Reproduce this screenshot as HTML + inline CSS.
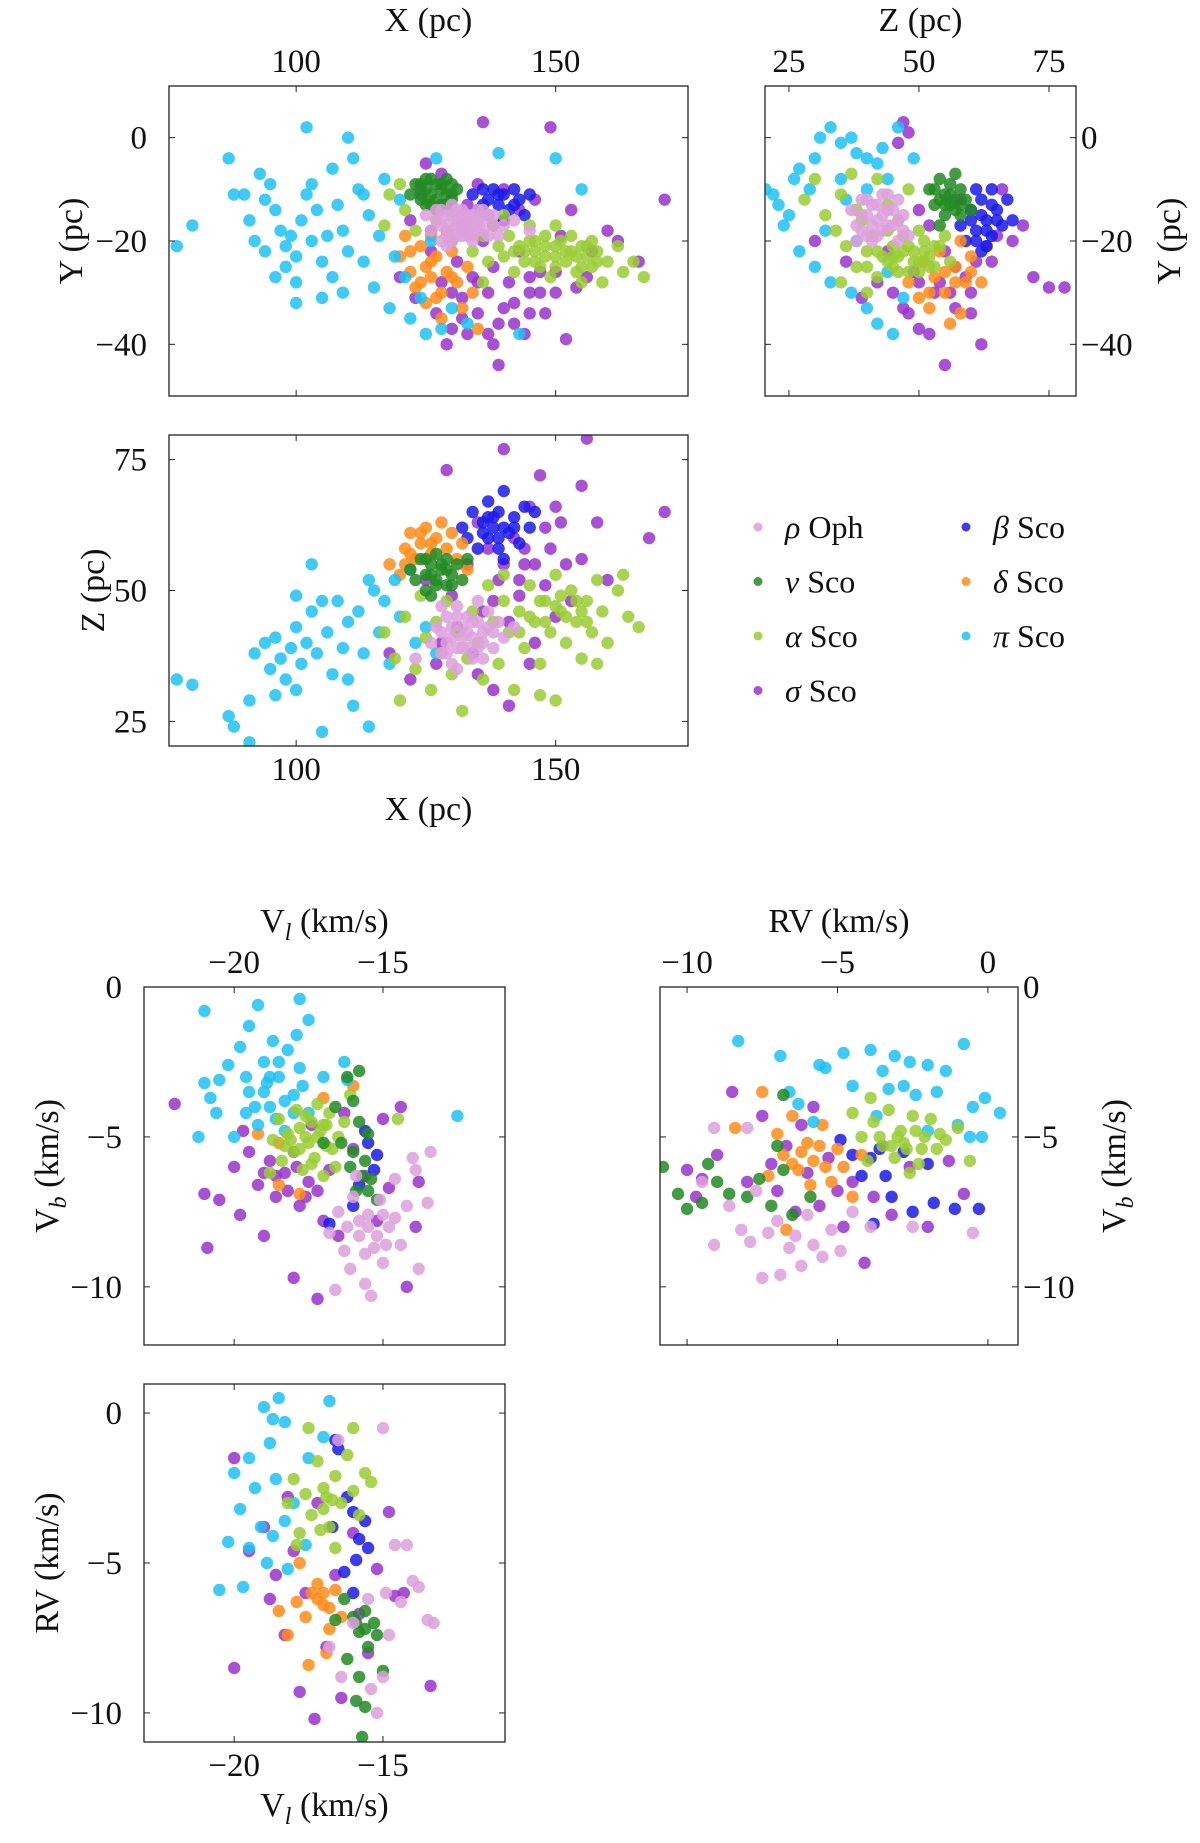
<!DOCTYPE html>
<html><head><meta charset="utf-8"><style>
html,body{margin:0;padding:0;background:#fff}
svg{display:block}
text{font-family:"Liberation Serif",serif;fill:#111}
</style></head><body>
<svg id="fig" width="1200" height="1843" viewBox="0 0 1200 1843">
<g id="layer"></g>
</svg>
<script>
// ---------- data ----------
const groupNames = ["sigma","beta","delta","pi","alpha","nu","rho"];
const groupColors = {rho:"#dda0dd",nu:"#228b22",alpha:"#9acd32",sigma:"#9932cc",beta:"#1a1ae6",delta:"#ff8c1a",pi:"#1ec1f5"};

const xyPi=[[77,-21],[80,-17],[87,-4],[88,-11],[90,-11],[91,-16],[93,-7],[94,-12],[95,-9],[96,-14],[97,-18],[98,-21],[98,-25],[99,-19],[100,-23],[101,-16],[100,-28],[102,-11],[103,-20],[103,-9],[104,-14],[105,-24],[106,-19],[107,-6],[107,-27],[108,-13],[109,-18],[110,-22],[111,-4],[112,-10],[113,-24],[114,-15],[115,-29],[116,-19],[117,-8],[118,-33],[119,-23],[120,-12],[121,-27],[122,-35],[124,-31],[125,-38],[126,-20],[127,-4],[128,-37],[130,-33],[133,-36],[139,-3],[143,-38],[150,-4],[155,-10],[102,2],[110,0],[105,-31],[100,-32],[94,-22],[96,-27],[92,-20],[109,-30],[113,-11]];
const xySigma=[[120,-27],[122,-16],[123,-31],[124,-10],[125,-5],[126,-22],[127,-34],[128,-28],[129,-40],[130,-37],[131,-24],[132,-31],[133,-13],[134,-27],[135,-34],[136,-20],[136,3],[137,-30],[138,-25],[139,-36],[139,-44],[140,-16],[141,-28],[142,-32],[143,-22],[144,-38],[145,-27],[146,-12],[147,-30],[148,-34],[149,2],[150,-26],[151,-19],[152,-39],[153,-14],[154,-29],[156,-27],[157,-22],[160,-18],[162,-20],[171,-12],[166,-24],[133,-38],[130,-20],[126,-18],[140,-10],[143,-14],[128,-7],[135,-9],[145,-34],[130,-30],[135,-28],[140,-33],[145,-30],[138,-40],[142,-36],[150,-30],[132,-35],[147,-26],[137,-38]];
const xyAlpha=[[117,-17],[118,-11],[120,-9],[121,-14],[123,-18],[125,-12],[127,-16],[130,-20],[132,-18],[134,-22],[136,-19],[137,-24],[138,-17],[139,-21],[140,-23],[141,-19],[142,-26],[143,-21],[144,-24],[145,-20],[146,-22],[147,-25],[148,-21],[149,-27],[150,-23],[151,-20],[152,-24],[153,-22],[154,-26],[155,-21],[156,-23],[157,-25],[158,-22],[159,-28],[160,-24],[162,-21],[163,-26],[165,-24],[167,-27],[145,-17],[150,-17],[136,-28],[140,-15],[155,-28],[144,-22],[146,-20],[148,-23],[150,-21],[152,-22],[154,-23],[156,-21],[158,-24],[146,-24],[150,-25],[153,-19],[148,-19],[142,-22],[155,-25],[157,-20]];
const xyNu=[[122,-11],[123,-9],[124,-12],[125,-10],[125,-13],[126,-8],[126,-11],[127,-12],[127,-9],[128,-10],[128,-13],[129,-11],[130,-9],[130,-12],[131,-10],[124,-9],[127,-14],[129,-8],[124,-11],[126,-13],[128,-9],[129,-13],[125,-8],[130,-11]];
const xyRho=[[125,-15],[126,-18],[127,-14],[128,-17],[128,-20],[129,-15],[130,-18],[130,-13],[131,-16],[131,-19],[132,-14],[132,-17],[133,-19],[133,-15],[134,-17],[135,-14],[135,-18],[136,-16],[137,-19],[138,-15],[140,-17],[142,-16],[145,-18],[129,-21],[134,-20],[127,-16],[129,-17],[130,-15],[131,-14],[132,-19],[133,-16],[134,-15],[135,-16],[136,-18],[137,-15],[128,-14],[130,-20],[132,-15],[134,-19],[136,-14],[129,-19],[131,-17],[133,-17],[138,-17],[139,-19]];
const xyBeta=[[134,-11],[135,-14],[136,-10],[137,-12],[138,-10],[139,-13],[140,-11],[141,-14],[142,-10],[143,-12],[144,-15],[140,-16],[138,-17],[145,-11],[136,-13],[139,-11],[142,-13],[137,-15]];
const xyDelta=[[120,-23],[121,-19],[122,-26],[123,-29],[124,-21],[125,-25],[125,-32],[126,-27],[127,-23],[128,-30],[128,-35],[129,-26],[130,-22],[131,-28],[132,-33],[133,-25],[134,-30],[135,-37],[126,-19],[129,-18],[124,-28],[127,-31],[130,-27],[126,-24],[122,-22]];

const zyPi=[[20.5,-10],[22,-11],[23,-13],[24,-17],[26,-8],[27,-6],[29,-10],[30,-4],[31,0],[33,2],[35,-1],[37,0],[38,-3],[40,-4],[42,-5],[44,-8],[40,-10],[36,-12],[27,-22],[30,-25],[33,-28],[37,-30],[40,-33],[42,-36],[45,-38],[47,-31],[44,-26],[38,-20],[35,-8],[43,-2],[46,2],[49,-4],[32,-18],[25,-15]];
const zySigma=[[47,3],[48,1],[46,-1],[50,-14],[52,-17],[55,-22],[57,-25],[59,-27],[61,-24],[63,-21],[65,-19],[68,-20],[72,-27],[75,-29],[78,-29],[70,-17],[66,-10],[45,-30],[48,-34],[50,-37],[52,-38],[55,-44],[53,-30],[57,-33],[60,-34],[62,-40],[42,-28],[39,-31],[36,-24],[30,-20],[44,-22],[58,-12],[54,-28],[49,-26],[56,-30],[50,-28],[47,-33],[60,-30],[64,-24]];
const zyAlpha=[[28,-12],[30,-8],[32,-15],[34,-18],[35,-11],[36,-21],[37,-7],[38,-25],[39,-16],[40,-22],[41,-19],[42,-27],[43,-23],[44,-18],[45,-21],[45,-25],[46,-23],[47,-19],[48,-26],[49,-22],[50,-24],[51,-20],[52,-23],[53,-25],[54,-21],[55,-19],[56,-24],[44,-13],[48,-10],[42,-8],[40,-30],[35,-28],[38,-14],[46,-16],[50,-18],[45,-23],[47,-22],[49,-24],[51,-22],[53,-21],[48,-21],[50,-26],[46,-26],[44,-24],[52,-25],[42,-22],[40,-25]];
const zyRho=[[37,-14],[38,-17],[39,-12],[40,-15],[40,-19],[41,-13],[42,-16],[43,-18],[43,-11],[44,-14],[45,-17],[46,-12],[47,-15],[48,-19],[41,-20],[46,-20],[38,-20],[39,-15],[41,-17],[42,-13],[43,-15],[44,-17],[45,-14],[46,-16],[40,-12],[42,-19],[44,-11],[47,-18],[39,-18]];
const zyNu=[[52,-10],[53,-13],[54,-8],[55,-11],[55,-15],[56,-9],[56,-13],[57,-12],[58,-10],[58,-15],[59,-12],[54,-17],[57,-7],[60,-14],[53,-10],[55,-13],[56,-11],[57,-14],[54,-12],[58,-13]];
const zyBeta=[[58,-17],[59,-20],[60,-14],[61,-18],[62,-12],[62,-22],[63,-16],[64,-10],[64,-19],[65,-14],[66,-17],[67,-12],[68,-16],[61,-10],[63,-21],[60,-16],[62,-15],[63,-18],[65,-16],[61,-20],[64,-13]];
const zyDelta=[[48,-28],[50,-31],[51,-24],[52,-33],[53,-27],[54,-22],[55,-30],[56,-36],[57,-25],[58,-20],[59,-28],[60,-23],[62,-28],[58,-34],[55,-26],[57,-28],[60,-26],[52,-30]];

const xzPi=[[77,33],[80,32],[87,26],[88,24],[91,21],[91,29],[92,38],[94,40],[95,35],[96,41],[97,37],[98,33],[99,39],[100,43],[100,31],[101,36],[102,40],[103,46],[104,38],[105,23],[106,42],[107,34],[108,48],[109,39],[110,44],[111,28],[112,46],[113,38],[114,24],[115,50],[116,42],[117,48],[118,36],[119,52],[120,45],[122,54],[123,40],[125,43],[127,38],[103,55],[100,49],[110,33],[96,30],[105,48],[114,52]];
const xzSigma=[[118,38],[122,33],[125,52],[127,36],[129,73],[130,49],[131,43],[133,55],[134,38],[135,63],[136,46],[137,58],[138,31],[139,52],[140,77],[141,28],[141,44],[142,60],[143,49],[144,55],[145,66],[146,40],[147,72],[148,51],[149,58],[150,45],[151,63],[152,55],[153,48],[155,70],[155,56],[156,79],[158,63],[160,52],[168,60],[171,65],[135,34],[145,36],[128,40],[150,66],[140,55],[143,52],[146,55],[138,48],[144,58],[148,62]];
const xzAlpha=[[117,42],[119,37],[120,29],[121,45],[123,35],[124,49],[125,41],[126,31],[127,44],[128,38],[129,48],[130,34],[131,42],[132,27],[133,37],[134,46],[135,40],[136,33],[137,51],[138,44],[139,36],[140,48],[141,42],[142,31],[143,46],[144,39],[145,51],[146,44],[147,36],[148,48],[149,42],[150,29],[150,53],[151,46],[152,40],[153,50],[154,44],[155,37],[156,48],[157,42],[158,52],[159,46],[160,40],[162,50],[164,45],[166,43],[163,53],[158,36],[147,30],[140,53],[145,45],[148,44],[150,47],[152,45],[154,48],[156,44],[143,42],[147,48],[151,49],[155,46]];
const xzRho=[[126,40],[127,43],[128,38],[129,45],[130,41],[130,36],[131,47],[132,43],[132,39],[133,45],[134,41],[134,37],[135,44],[136,40],[137,46],[138,42],[139,44],[140,41],[142,43],[128,47],[135,48],[131,35],[123,37],[129,40],[130,43],[131,39],[132,41],[133,42],[134,44],[135,39],[136,42],[137,43],[128,42],[131,45],[133,39],[129,38],[136,37],[138,39]];
const xzNu=[[122,54],[123,52],[124,56],[125,53],[125,50],[126,55],[127,52],[127,57],[128,54],[129,51],[129,56],[130,53],[131,55],[132,52],[126,49],[133,56],[126,53],[128,55],[127,51],[129,54],[125,56],[130,51]];
const xzBeta=[[132,62],[133,60],[134,65],[135,58],[136,63],[137,67],[137,60],[138,62],[139,65],[139,58],[140,69],[141,61],[142,64],[143,59],[144,66],[145,62],[146,65],[140,56],[136,61],[138,64],[140,62],[142,62],[139,60],[137,64]];
const xzDelta=[[118,55],[120,53],[121,58],[122,61],[123,56],[124,59],[125,62],[126,57],[127,60],[128,63],[129,58],[130,61],[131,56],[132,59],[133,54],[122,57],[124,61],[126,59],[121,55]];

const vlbPi=[[-21,-0.8],[-19.2,-0.6],[-17.8,-0.4],[-17.5,-1.1],[-19.5,-1.3],[-20.5,-3.1],[-21,-3.2],[-20.2,-2.6],[-19.8,-2],[-19.5,-3.5],[-19,-2.5],[-18.8,-4],[-18.5,-3],[-18.2,-2.1],[-18,-3.6],[-17.8,-2.7],[-17.5,-4.2],[-19.2,-4.6],[-20.6,-4.2],[-21.2,-5],[-20,-5],[-18.7,-1.8],[-19.6,-4.2],[-18.3,-4.8],[-17,-3],[-16.3,-2.5],[-16.2,-3.1],[-12.5,-4.3],[-20.8,-3.7],[-18.9,-3.2],[-17.9,-1.6],[-19,-3.5],[-18.5,-2.5],[-18.3,-3.8],[-18.8,-3],[-19.3,-4],[-18,-4.2],[-19.6,-3],[-18.6,-4.4],[-17.7,-3.3]];
const vlbSigma=[[-22,-3.9],[-21,-6.9],[-20.5,-7.1],[-20,-6],[-19.8,-7.6],[-19.5,-5.5],[-19.2,-6.6],[-19,-8.3],[-18.8,-5.8],[-18.6,-7],[-18.3,-6.2],[-18,-9.7],[-18,-5.5],[-17.8,-7.3],[-17.5,-6.5],[-17.2,-10.4],[-17,-7.8],[-16.8,-6.1],[-16.5,-8.3],[-16.3,-4.2],[-16,-5.4],[-15.6,-6.3],[-15.2,-7.8],[-15,-4.4],[-14.8,-6.7],[-14.4,-4],[-14.2,-10],[-13.9,-8],[-20.9,-8.7],[-19.7,-4.8],[-17.4,-4.6],[-13.8,-6.5],[-18.6,-6.3],[-18.2,-6.8],[-17.9,-6],[-19,-6.2],[-17.6,-7],[-17.2,-6.8]];
const vlbAlpha=[[-18.7,-5.1],[-18.5,-4.4],[-18.4,-5.8],[-18.2,-4.9],[-18,-5.5],[-17.9,-4.1],[-17.7,-6.1],[-17.6,-5],[-17.4,-4.5],[-17.3,-5.7],[-17.1,-4.8],[-16.9,-5.3],[-16.8,-4.2],[-16.6,-6],[-16.5,-5],[-16.3,-4.5],[-17.8,-4.7],[-17.2,-3.9],[-16.1,-3.6],[-14.5,-4.4],[-18.8,-6.2],[-17,-6.3],[-17.5,-5.2],[-17.8,-5.4],[-17.2,-5],[-17,-4.6],[-17.6,-4.3],[-18.1,-5.1],[-16.7,-5.4],[-17.4,-5.9],[-16.9,-4.6],[-18.3,-5.3]];
const vlbNu=[[-16.2,-3],[-16,-3.8],[-15.8,-4.5],[-16.4,-5.2],[-15.6,-5.8],[-15.4,-6.4],[-15.9,-6.8],[-15.2,-7.1],[-16.6,-4],[-15.5,-4.9],[-15.8,-2.8],[-16.1,-6],[-17,-5.2],[-15.7,-6.3],[-15.5,-6.8],[-16,-5.5]];
const vlbRho=[[-16.5,-7.5],[-16.3,-8.8],[-16.1,-9.4],[-16,-7],[-15.8,-8.3],[-15.6,-9.9],[-15.5,-7.6],[-15.3,-8.7],[-15.1,-7.1],[-15,-9.2],[-14.8,-8],[-14.6,-6.4],[-14.4,-8.6],[-14.2,-7.3],[-14,-5.7],[-13.8,-9.4],[-13.5,-7.2],[-13.4,-5.5],[-16.6,-10.1],[-16.8,-8.2],[-15.9,-6.3],[-13.9,-6.1],[-15.4,-10.3],[-15.5,-8],[-15.2,-8.3],[-15.8,-7.8],[-14.9,-8.6],[-15.6,-8.9],[-15,-7.6],[-16.2,-8],[-14.6,-7.7]];
const vlbBeta=[[-15.5,-5.2],[-15.3,-6.1],[-15.8,-6.6],[-15.6,-4.8],[-15.2,-5.6],[-16,-7.3],[-16.8,-7.9]];
const vlbDelta=[[-18.5,-6.6],[-19.2,-4.9],[-18.5,-5.2],[-17.8,-6.9],[-16,-3.3],[-17,-3.7]];

const rvbPi=[[-8.3,-1.8],[-6.9,-2.3],[-6.6,-3.5],[-6.3,-3.9],[-5.6,-2.6],[-5.4,-2.7],[-4.8,-2.2],[-4.5,-3.3],[-3.9,-2.1],[-3.5,-2.8],[-3.3,-3.4],[-3.1,-2.3],[-2.8,-3.3],[-2.6,-2.5],[-2.4,-3.6],[-2,-2.6],[-1.7,-3.5],[-1.4,-2.8],[-1,-4.6],[-0.8,-1.9],[-0.5,-4],[-0.2,-5],[0.4,-4.2],[-3.7,-4.3],[-2,-4.8],[-0.6,-5],[-5.8,-4.5],[-0.1,-3.7]];
const rvbSigma=[[-10,-6.1],[-9.5,-6.4],[-9,-5.6],[-8.5,-3.5],[-8,-6.5],[-7.5,-4.3],[-7.2,-5.9],[-7,-6.8],[-6.7,-5.3],[-6.4,-7.5],[-6.2,-4.6],[-6,-6.2],[-5.6,-7.3],[-5.3,-5.7],[-5,-6.8],[-4.8,-8],[-4.5,-6.5],[-4.1,-9.2],[-3.8,-7],[-3.5,-5.3],[-3.2,-7.6],[-2.6,-6],[-2,-8],[-0.8,-6.9],[-1.3,-5.8],[-9.7,-7],[-5.8,-4]];
const rvbDelta=[[-8.4,-4.7],[-7.5,-3.5],[-7,-4.9],[-6.8,-5.6],[-6.5,-4.3],[-6.3,-6.1],[-6,-5.2],[-5.8,-5.8],[-5.5,-4.6],[-5.2,-6.5],[-5,-5.4],[-4.8,-6],[-4.5,-7],[-6.7,-8.1],[-7.3,-6.3],[-5.9,-6.6],[-4.2,-5.6],[-6.2,-5.5],[-5.6,-5.3],[-6.5,-5.9],[-5.4,-6]];
const rvbNu=[[-10.8,-6],[-10.3,-6.9],[-10,-7.4],[-9.5,-7.2],[-9,-6.5],[-8.6,-6.9],[-8,-7],[-7.6,-6.4],[-7.2,-7.3],[-6.8,-6.1],[-6.5,-7.6],[-7,-5.3],[-6.8,-3.6],[-5.9,-7],[-9.3,-5.9]];
const rvbAlpha=[[-4.5,-4.2],[-4.2,-5],[-4,-5.8],[-3.8,-4.5],[-3.5,-5.3],[-3.3,-4.1],[-3.1,-5.7],[-2.9,-4.8],[-2.7,-5.4],[-2.5,-4.3],[-2.3,-5.9],[-2.1,-5],[-1.9,-4.4],[-1.7,-5.4],[-1.4,-5.1],[-1,-4.7],[-0.6,-5.8],[-3.9,-3.7],[-2.6,-6.2],[-3.6,-5],[-3,-5],[-2.8,-5.2],[-2.4,-4.8],[-3.2,-5.3],[-2.2,-5.4],[-1.6,-4.9]];
const rvbRho=[[-9.5,-6.5],[-9.1,-4.7],[-8.6,-7.3],[-8.2,-8.1],[-7.9,-8.5],[-7.7,-6.8],[-7.5,-9.7],[-7.3,-8.2],[-7,-7.8],[-6.9,-9.6],[-6.6,-8.7],[-6.4,-8.3],[-6.2,-9.3],[-6,-7.6],[-5.8,-8.6],[-5.5,-9],[-5.2,-8.1],[-4.9,-8.8],[-4.5,-7.5],[-3.9,-8],[-2.5,-8],[-0.5,-8.2],[-9.1,-8.6],[-8,-4.7]];
const rvbBeta=[[-4.9,-5.1],[-4.5,-5.6],[-4.2,-6.3],[-3.9,-5.7],[-3.6,-5.4],[-3.4,-6.3],[-3.2,-7],[-2.8,-5.5],[-2.5,-7.5],[-1.8,-7.2],[-1.1,-7.4],[-0.3,-7.4],[-3.8,-7.9],[-2,-5.9]];

const vlrPi=[[-19,0.2],[-18.5,0.5],[-18.7,-0.2],[-18.3,-0.3],[-18.8,-1],[-19.5,-1.5],[-20,-2],[-19.3,-2.5],[-18.6,-2.2],[-18,-3],[-18.3,-3.6],[-19.8,-3.2],[-20.2,-4.3],[-19.5,-4.5],[-18.9,-5],[-20.5,-5.9],[-19.7,-5.8],[-18.2,-5.2],[-17.6,-4.4],[-17,-0.8],[-16.8,0.4],[-17.5,-1.5],[-19.1,-3.8],[-18.7,-4.1]];
const vlrSigma=[[-20,-1.5],[-20,-8.5],[-19.5,-4.6],[-19,-3.8],[-18.8,-6.2],[-18.6,-5.4],[-18.3,-7.4],[-18,-4.6],[-17.8,-9.3],[-17.6,-6],[-17.3,-10.2],[-17.2,-3],[-16.9,-7.8],[-16.6,-5.4],[-16.4,-9.5],[-16,-4],[-15.8,-6.7],[-15.5,-8],[-14.8,-3.3],[-14.6,-6.1],[-14.3,-6],[-13.4,-9.1],[-18.2,-2.8],[-15.2,-5.2]];
const vlrAlpha=[[-18.2,-3],[-18,-2.2],[-17.8,-4],[-17.6,-2.7],[-17.4,-3.4],[-17.2,-1.6],[-17,-2.5],[-16.8,-3.8],[-16.6,-2.1],[-16.4,-3],[-16.2,-1.4],[-16,-2.6],[-15.8,-3.4],[-15.6,-2],[-17.5,-0.5],[-16.6,-4.5],[-17.9,-4.4],[-15.4,-2.3],[-16,-0.5],[-17.1,-3.9],[-17,-3.2],[-16.7,-2.9],[-16.9,-2.8]];
const vlrBeta=[[-16.5,-1.2],[-16.2,-2.8],[-16,-3.3],[-15.8,-4.2],[-15.6,-3.6],[-15.9,-4.9],[-16.3,-5.3],[-15.5,-4.5],[-16.7,-3.8],[-16,-6],[-16.6,-0.9]];
const vlrDelta=[[-18.5,-6.6],[-18.2,-7.4],[-17.8,-5],[-17.6,-6.8],[-17.4,-6],[-17.2,-5.7],[-17,-6.4],[-16.8,-7.2],[-16.6,-5.9],[-16.9,-8],[-17.5,-8.4],[-16.4,-6.8],[-17.9,-6.3],[-17.2,-6.2],[-17,-6],[-16.8,-6.5]];
const vlrNu=[[-16.3,-6.2],[-16,-6.8],[-15.8,-7.3],[-15.6,-6.6],[-15.5,-7.8],[-15.3,-7],[-16.2,-8.2],[-15.8,-8.8],[-15.9,-9.6],[-15.6,-9.8],[-15.7,-10.8],[-15,-8.6],[-16.6,-6.9],[-15.2,-7.4],[-15.9,-7],[-15.6,-7.2]];
const vlrRho=[[-15,-0.5],[-16.5,-0.9],[-14.6,-4.4],[-14.2,-4.4],[-14,-5.6],[-13.8,-5.8],[-13.5,-6.9],[-13.3,-7],[-14.4,-6.3],[-14.8,-7.4],[-15,-8.8],[-15.4,-9.2],[-15.2,-10],[-16.4,-8.8],[-16,-7],[-15.5,-6.2],[-14.9,-6],[-16.8,-7.8]];

const ticksX=[100,150], ticksY=[0,-20,-40], ticksZ=[25,50,75];
const ticksVl=[-20,-15], ticksVb=[0,-5,-10], ticksRV=[-10,-5,0], ticksRVy=[0,-5,-10];

const legendLabels=[["rho","\u03C1"," Oph"],["nu","\u03BD"," Sco"],["alpha","\u03B1"," Sco"],["sigma","\u03C3"," Sco"],["beta","\u03B2"," Sco"],["delta","\u03B4"," Sco"],["pi","\u03C0"," Sco"]];

// ---------- drawing ----------
const NS="http://www.w3.org/2000/svg";
const layer=document.getElementById("layer");
function mk(tag,attrs,parent){const e=document.createElementNS(NS,tag);for(const k in attrs)e.setAttribute(k,attrs[k]);(parent||layer).appendChild(e);return e;}

function panel(cfg){
  const g=mk("g",{});
  
  
  const sx=v=>cfg.x0+(v-cfg.xd[0])/(cfg.xd[1]-cfg.xd[0])*(cfg.x1-cfg.x0);
  const sy=v=>cfg.y1-(v-cfg.yd[0])/(cfg.yd[1]-cfg.yd[0])*(cfg.y1-cfg.y0);
  const clip="clip-"+cfg.name;
  const cp=mk("clipPath",{id:clip},g);
  mk("rect",{x:cfg.x0,y:cfg.y0,width:cfg.x1-cfg.x0,height:cfg.y1-cfg.y0},cp);
  const pts=mk("g",{"clip-path":"url(#"+clip+")"},g);
  for(const gn of groupNames){
    const arr=cfg.series[gn]; if(!arr) continue;
    for(const p of arr){
      const c=mk("circle",{cx:sx(p[0]),cy:sy(p[1]),r:6.2,fill:groupColors[gn],"fill-opacity":0.85},pts);
      
      
    }
  }
  const fr=mk("rect",{x:cfg.x0,y:cfg.y0,width:cfg.x1-cfg.x0,height:cfg.y1-cfg.y0,fill:"none",stroke:"#222","stroke-width":1.3},g);
  
  
  const fs=33;
  for(const t of cfg.xt){
    const x=sx(t);
    mk("line",{x1:x,x2:x,y1:cfg.y0,y2:cfg.y0+6,stroke:"#222"},g);
    mk("line",{x1:x,x2:x,y1:cfg.y1,y2:cfg.y1-6,stroke:"#222"},g);
    const ty=cfg.xtop?cfg.y0-14:cfg.y1+34;
    const tx=mk("text",{x:x,y:ty,"text-anchor":"middle","font-size":fs},g);
    tx.textContent=(t<0?"\u2212"+(-t):""+t);
    
    
  }
  for(const t of cfg.yt){
    const y=sy(t);
    mk("line",{x1:cfg.x0,x2:cfg.x0+6,y1:y,y2:y,stroke:"#222"},g);
    mk("line",{x1:cfg.x1,x2:cfg.x1-6,y1:y,y2:y,stroke:"#222"},g);
    const tx=mk("text",{x:cfg.yright?cfg.x1+5:cfg.x0-22,y:y+11,"text-anchor":cfg.yright?"start":"end","font-size":fs},g);
    tx.textContent=(t<0?"\u2212"+(-t):""+t);
    
    
  }
  const cx=(cfg.x0+cfg.x1)/2, cy=(cfg.y0+cfg.y1)/2;
  const xl=mk("text",{x:cx,y:cfg.xtop?cfg.y0-55:cfg.y1+74,"text-anchor":"middle","font-size":34},g);
  xl.innerHTML=cfg.xlabel;
  
  
  const lx=cfg.ylx;
  const yl=mk("text",{x:lx,y:cy,"text-anchor":"middle","font-size":34,transform:"rotate(-90 "+lx+" "+cy+")"},g);
  yl.innerHTML=cfg.ylabel;
  
  
}
const VL='V<tspan font-size="24" font-style="italic" dy="8">l</tspan><tspan dy="-8"> (km/s)</tspan>';
const VB='V<tspan font-size="24" font-style="italic" dy="8">b</tspan><tspan dy="-8"> (km/s)</tspan>';

panel({name:"panel-x-y",x0:169,x1:688,y0:86,y1:396,xd:[75.5,175.5],yd:[-50,10],xt:ticksX,yt:ticksY,xtop:true,xlabel:"X (pc)",ylabel:"Y (pc)",ylx:82,
 series:{pi:xyPi,sigma:xySigma,alpha:xyAlpha,nu:xyNu,rho:xyRho,beta:xyBeta,delta:xyDelta}});
panel({name:"panel-z-y",x0:765,x1:1076,y0:86,y1:396,xd:[20.4,80.2],yd:[-50,10],xt:ticksZ,yt:ticksY,xtop:true,yright:true,xlabel:"Z (pc)",ylabel:"Y (pc)",ylx:1180,
 series:{pi:zyPi,sigma:zySigma,alpha:zyAlpha,nu:zyNu,rho:zyRho,beta:zyBeta,delta:zyDelta}});
panel({name:"panel-x-z",x0:169,x1:688,y0:435,y1:746,xd:[75.5,175.5],yd:[20.3,79.7],xt:ticksX,yt:ticksZ,xtop:false,xlabel:"X (pc)",ylabel:"Z (pc)",ylx:104,
 series:{pi:xzPi,sigma:xzSigma,alpha:xzAlpha,nu:xzNu,rho:xzRho,beta:xzBeta,delta:xzDelta}});
panel({name:"panel-vl-vb",x0:144,x1:505,y0:987,y1:1345,xd:[-23.03,-10.9],yd:[-11.94,0],xt:ticksVl,yt:ticksVb,xtop:true,xlabel:VL,ylabel:VB,ylx:58,
 series:{pi:vlbPi,sigma:vlbSigma,alpha:vlbAlpha,nu:vlbNu,rho:vlbRho,beta:vlbBeta,delta:vlbDelta}});
panel({name:"panel-rv-vb",x0:660,x1:1018,y0:987,y1:1345,xd:[-10.9,1.0],yd:[-11.94,0],xt:ticksRV,yt:ticksVb,xtop:true,yright:true,xlabel:"RV (km/s)",ylabel:VB,ylx:1125,
 series:{pi:rvbPi,sigma:rvbSigma,alpha:rvbAlpha,nu:rvbNu,rho:rvbRho,beta:rvbBeta,delta:rvbDelta}});
panel({name:"panel-vl-rv",x0:144,x1:505,y0:1384,y1:1742,xd:[-23.03,-10.9],yd:[-10.97,0.97],xt:ticksVl,yt:ticksRVy,xtop:false,xlabel:VL,ylabel:"RV (km/s)",ylx:58,
 series:{pi:vlrPi,sigma:vlrSigma,alpha:vlrAlpha,nu:vlrNu,rho:vlrRho,beta:vlrBeta,delta:vlrDelta}});

// legend
const lg=mk("g",{});


legendLabels.forEach((L,i)=>{
  const col=i<4?0:1, row=i<4?i:i-4;
  const mx=col?966:758, ty=527+row*54.5;
  const e=mk("g",{},lg);
  
  
  mk("circle",{cx:mx,cy:ty,r:4.5,fill:groupColors[L[0]],"fill-opacity":0.85},e);
  const t=mk("text",{x:mx+27,y:ty+11,"font-size":32},e);
  t.innerHTML='<tspan font-style="italic">'+L[1]+'</tspan>'+L[2];
});
</script>
</body></html>
